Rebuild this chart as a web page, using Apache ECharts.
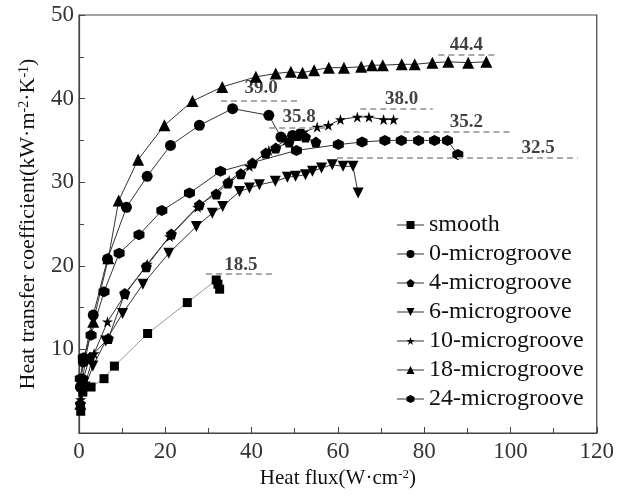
<!DOCTYPE html>
<html>
<head>
<meta charset="utf-8">
<script src="https://cdn.jsdelivr.net/npm/echarts@6/dist/echarts.min.js"></script>
<style>html,body{margin:0;padding:0;background:#fff;}#c{width:617px;height:496px;}</style>
</head>
<body>
<div id="c"></div>
<script>
// ---- data ----
const seriesNames = ['smooth','0-microgroove','4-microgroove','6-microgroove','10-microgroove','18-microgroove','24-microgroove'];
const smooth = [[0.4,2.6],[0.9,4.9],[2.8,5.5],[5.8,6.5],[8.2,8.0],[15.9,11.9],[25.1,15.6],[31.8,18.3],[32.2,17.8],[32.6,17.2]];
const micro0 = [[0.3,5.5],[1.0,8.5],[3.3,14.1],[6.6,20.8],[11.0,27.0],[15.8,30.7],[21.2,34.4],[27.9,36.8],[35.6,38.8],[44.0,38.0],[46.8,35.4],[49.5,35.6],[51.3,35.8]];
const micro4 = [[0.3,3.5],[1.0,6.5],[2.5,9.0],[6.8,11.3],[10.6,16.7],[15.6,19.9],[21.4,23.8],[27.9,27.3],[31.8,28.6],[34.5,29.9],[37.5,31.0],[40.2,32.3],[43.3,33.5],[45.6,34.1],[48.7,34.8],[50.6,35.6],[52.5,35.4],[54.9,34.8]];
const micro6 = [[0.3,3.0],[1.2,5.2],[3.2,8.0],[6.2,11.0],[10.1,14.3],[14.8,17.8],[20.8,21.5],[27.2,24.7],[30.9,26.3],[33.3,27.1],[37.2,28.9],[39.5,29.3],[41.8,29.7],[45.5,30.1],[48.3,30.6],[50.2,30.7],[52.5,30.9],[54.1,31.3],[56.2,31.7],[58.7,32.1],[61.2,31.9],[63.5,31.9],[64.7,28.7]];
const micro10 = [[0.4,4.0],[1.5,6.0],[3.5,9.5],[6.6,13.3],[10.6,16.5],[15.8,20.2],[21.0,23.5],[27.5,27.0],[34.8,30.2],[39.5,31.9],[44.0,33.8],[48.0,35.0],[52.0,36.0],[55.2,36.6],[57.8,36.8],[60.6,37.5],[64.5,37.8],[67.2,37.8],[70.6,37.5],[72.9,37.5]];
const micro18 = [[0.3,3.5],[0.8,6.0],[1.5,9.0],[3.3,13.3],[6.8,20.9],[9.2,27.8],[13.7,32.7],[19.8,36.8],[26.3,39.7],[33.2,41.4],[41.0,42.6],[45.6,43.0],[49.1,43.2],[51.8,43.1],[54.5,43.4],[57.9,43.7],[61.4,43.7],[65.4,43.8],[67.9,44.0],[70.4,44.0],[74.8,44.1],[77.8,44.1],[81.9,44.3],[85.6,44.4],[90.2,44.3],[94.4,44.4]];
const micro24 = [[0.3,6.5],[1.0,9.0],[2.8,11.7],[5.8,16.9],[9.3,21.5],[13.9,23.7],[19.2,26.6],[25.6,28.7],[32.8,31.3],[50.4,33.8],[60.1,34.5],[65.6,34.8],[70.9,35.0],[74.7,35.0],[78.7,35.0],[82.4,35.0],[85.4,35.0],[87.8,33.3]];
// reference (max) lines
const refText = ['18.5','39.0','35.8','38.0','44.4','35.2','32.5'];
const refY = [19.0,39.7,36.5,38.8,45.25,36.0,32.9];
const refX0 = [29.4,32.9,44.1,65.2,83.3,75.2,59.8];
const refX1 = [44.9,51.4,58.0,82.0,96.4,99.8,115.6];
const refLabelX = [37.5,42.2,51.0,74.8,89.8,89.8,106.4];
const refLabelY = [20.1,41.3,37.8,40.0,46.4,37.2,34.1];
// axis
const xTicks = [0,20,40,60,80,100,120];
const yTicks = [10,20,30,40,50];

// ---- chart ----
const F = '"Liberation Serif","Times New Roman",serif';
const pentagon = 'path://M0,-1 L0.951,-0.309 L0.588,0.809 L-0.588,0.809 L-0.951,-0.309 Z';
const hexagon = 'path://M0,-1 L0.866,-0.5 L0.866,0.5 L0,1 L-0.866,0.5 L-0.866,-0.5 Z';
const star = 'path://M0,-1 L0.2245,-0.309 L0.951,-0.309 L0.363,0.118 L0.588,0.809 L0,0.382 L-0.588,0.809 L-0.363,0.118 L-0.951,-0.309 L-0.2245,-0.309 Z';
const downTri = 'path://M-1,-0.85 L1,-0.85 L0,0.9 Z';
const datasets = [smooth, micro0, micro4, micro6, micro10, micro18, micro24];
const symbols = ['rect','circle',pentagon,downTri,star,'triangle',hexagon];
const sizes = [9,11,11,11,11,12,11];
const lineColors = ['#999','#333','#333','#333','#333','#333','#333'];

const series = datasets.map((d,i)=>({
  name: seriesNames[i], type:'line', data:d, symbol:symbols[i], symbolSize:sizes[i],
  itemStyle:{color:'#000'}, lineStyle:{color:lineColors[i], width:1}, z: 3
}));
series.push({
  name:'ref', type:'line', data:[], silent:true,
  markLine:{symbol:'none', silent:true, label:{show:false},
    lineStyle:{type:[6,4], color:'#aaa', width:2},
    data: refY.map((y,i)=>[{coord:[refX0[i],y]},{coord:[refX1[i],y]}])}
});
series.push({
  name:'refLabels', type:'scatter', symbolSize:0, silent:true,
  data: refText.map((t,i)=>[refLabelX[i], refLabelY[i], t]),
  label:{show:true, position:'inside', formatter:p=>p.data[2], color:'#111', fontFamily:F, fontWeight:'bold', fontSize:19}
});

const chart = echarts.init(document.getElementById('c'));
chart.setOption({
  animation:false,
  backgroundColor:'#fff',
  grid:{left:79, right:18, top:15, bottom:63, show:true, borderColor:'#444', borderWidth:1.2},
  legend:{
    data: seriesNames, orient:'vertical', left:391, top:208, itemWidth:27, itemHeight:10, itemGap:5,
    lineStyle:{color:'#999'},
    textStyle:{fontFamily:F, fontSize:24, color:'#111'}
  },
  xAxis:{
    type:'value', min:0, max:120, interval:20,
    name:'Heat flux(W·cm{sup|-2})', nameLocation:'middle', nameGap:35,
    nameTextStyle:{fontFamily:F, fontSize:21, color:'#111', rich:{sup:{fontFamily:F, fontSize:13, verticalAlign:'top', color:'#111'}}},
    axisLine:{show:true, lineStyle:{color:'#444', width:1.2}},
    axisTick:{show:true, inside:true, length:6, lineStyle:{color:'#444'}},
    minorTick:{show:true, splitNumber:2, length:5, lineStyle:{color:'#444'}},
    splitLine:{show:false},
    axisLabel:{fontFamily:F, fontSize:23, color:'#333', margin:7, formatter:v=>xTicks.includes(v)?String(v):''}
  },
  yAxis:{
    type:'value', min:0, max:50, interval:10,
    name:'Heat transfer coefficient(kW·m{sup|-2}·K{sup|-1})', nameLocation:'middle', nameGap:40,
    nameTextStyle:{fontFamily:F, fontSize:22, color:'#111', rich:{sup:{fontFamily:F, fontSize:14, verticalAlign:'top', color:'#111'}}},
    axisLine:{show:true, lineStyle:{color:'#444', width:1.2}},
    axisTick:{show:true, inside:true, length:6, lineStyle:{color:'#444'}},
    minorTick:{show:true, splitNumber:2, length:5, lineStyle:{color:'#444'}},
    splitLine:{show:false},
    axisLabel:{fontFamily:F, fontSize:23, color:'#333', margin:5, formatter:v=>yTicks.includes(v)?String(v):''}
  },
  series: series
});
</script>
</body>
</html>
